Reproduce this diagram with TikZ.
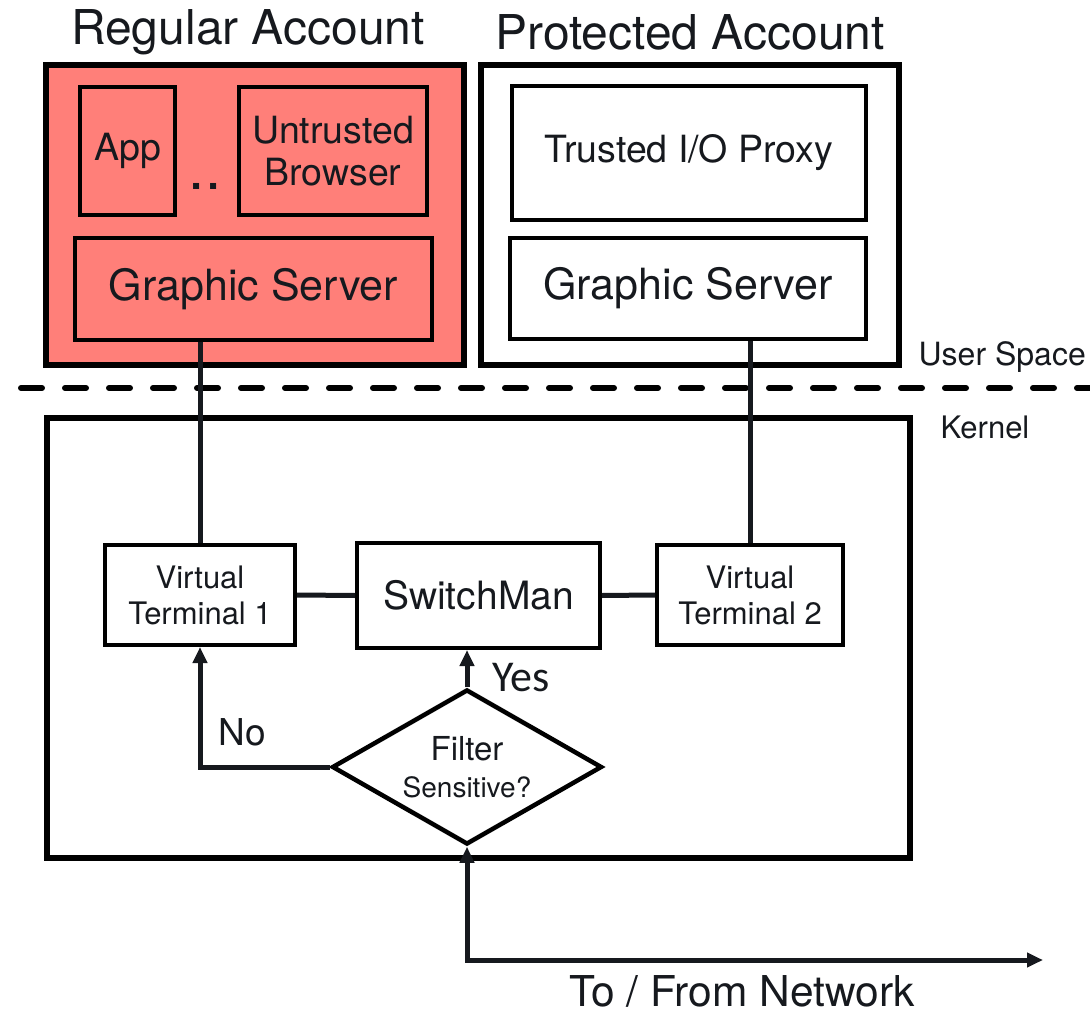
\documentclass[tikz,border=0pt]{standalone}
\usepackage{fontspec}
\setmainfont{TeX Gyre Heros}
\newfontfamily\yesfont{Carlito}
\usetikzlibrary{shapes.geometric}
\usetikzlibrary{arrows.meta}
\definecolor{salmon}{HTML}{FF7F79}
\definecolor{ink}{HTML}{16191E}

\begin{document}
\begin{tikzpicture}[x=1pt, y=-1pt,
  every node/.style={text=ink, inner sep=0pt},
  account/.style={draw, line width=6pt, minimum width=418, minimum height=300},
  box/.style={draw, line width=4pt},
  link/.style={draw=ink, line width=5pt},
  tip/.style={-{Triangle[length=16pt,width=14pt]}},
  big/.style={font=\fontsize{43}{48}\selectfont},
  mid/.style={font=\fontsize{37.5}{42}\selectfont},
  small/.style={font=\fontsize{31}{36}\selectfont}]
  \useasboundingbox (0,0) rectangle (1090,1016);

  % user space: the two accounts
  \node [font=\fontsize{48}{52}\selectfont](regtitle) at (248,32) {Regular Account};
  \node [font=\fontsize{48}{52}\selectfont](prottitle) at (690,32) {Protected Account};
  \node [account, fill=salmon](regular) at (254.5,215) {};
  \node [account](protected) at (689.5,215) {};
    \node [box, mid, minimum width=95, minimum height=128](app) at (127.5,151) {App};
    \node [font=\fontsize{58}{60}\selectfont](dots) at (205,186) {..};
    \node [box, mid, align=center, minimum width=188, minimum height=128](browser) at (333,151) {Untrusted\\Browser};
    \node [box, big, minimum width=357, minimum height=102](gsreg) at (253.5,289) {Graphic Server};
    \node [box, mid, minimum width=354, minimum height=134](proxy) at (689,153) {Trusted I/O Proxy};
    \node [box, big, minimum width=356, minimum height=101](gsprot) at (688,288.5) {Graphic Server};

  % boundary between user space and kernel
  \draw [line width=6pt, line cap=round, dash pattern=on 21pt off 23pt] (21,388) -- (1093,388);
  \node [font=\fontsize{32}{36}\selectfont, anchor=east](userspace) at (1086,357) {User Space};
  \node [small](kernellabel) at (985,427) {Kernel};

  % kernel
  \node [draw, line width=6pt, minimum width=863, minimum height=440](kernel) at (478.5,638) {};
    \node [box, small, align=center, minimum width=190, minimum height=100](vt1) at (200,595) {Virtual\\Terminal 1};
    \node [box, font=\fontsize{39}{44}\selectfont, minimum width=243, minimum height=105](switchman) at (478.5,595.5) {SwitchMan};
    \node [box, small, align=center, minimum width=186, minimum height=100](vt2) at (750,595) {Virtual\\Terminal 2};
    \node [diamond, draw, line width=4.5pt, aspect=1.74, minimum width=270, minimum height=155,
      align=center, font=\fontsize{33}{37}\selectfont](filter) at (467,767)
      {Filter\\{\fontsize{28}{30}\selectfont Sensitive?}};
    \node [font=\yesfont\fontsize{44}{48}\selectfont](yes) at (521,678) {Yes};
    \node [font=\fontsize{37}{40}\selectfont](no) at (242,732) {No};

  \draw [link] (vt1.north) -- (vt1.north |- gsreg.south);
  \draw [link] (vt2.north) -- (vt2.north |- gsprot.south);
  \draw [link] (vt1.east) -- (switchman.west);
  \draw [link] (switchman.east) -- (vt2.west);
  \draw [link, tip] (filter.north) -- (filter.north |- switchman.south);
  \draw [link, tip] (filter.west) -| (vt1.south);

  % network
  \coordinate (corner) at (467,960);
  \coordinate (net) at (1043,960);
  \draw [link, {Triangle[length=16pt,width=14pt]}-{Triangle[length=16pt,width=14pt]}] (filter.south) -- (corner) -- (net);
  \node [font=\fontsize{42.5}{46}\selectfont](network) at (742,991) {To / From Network};
\end{tikzpicture}
\end{document}
